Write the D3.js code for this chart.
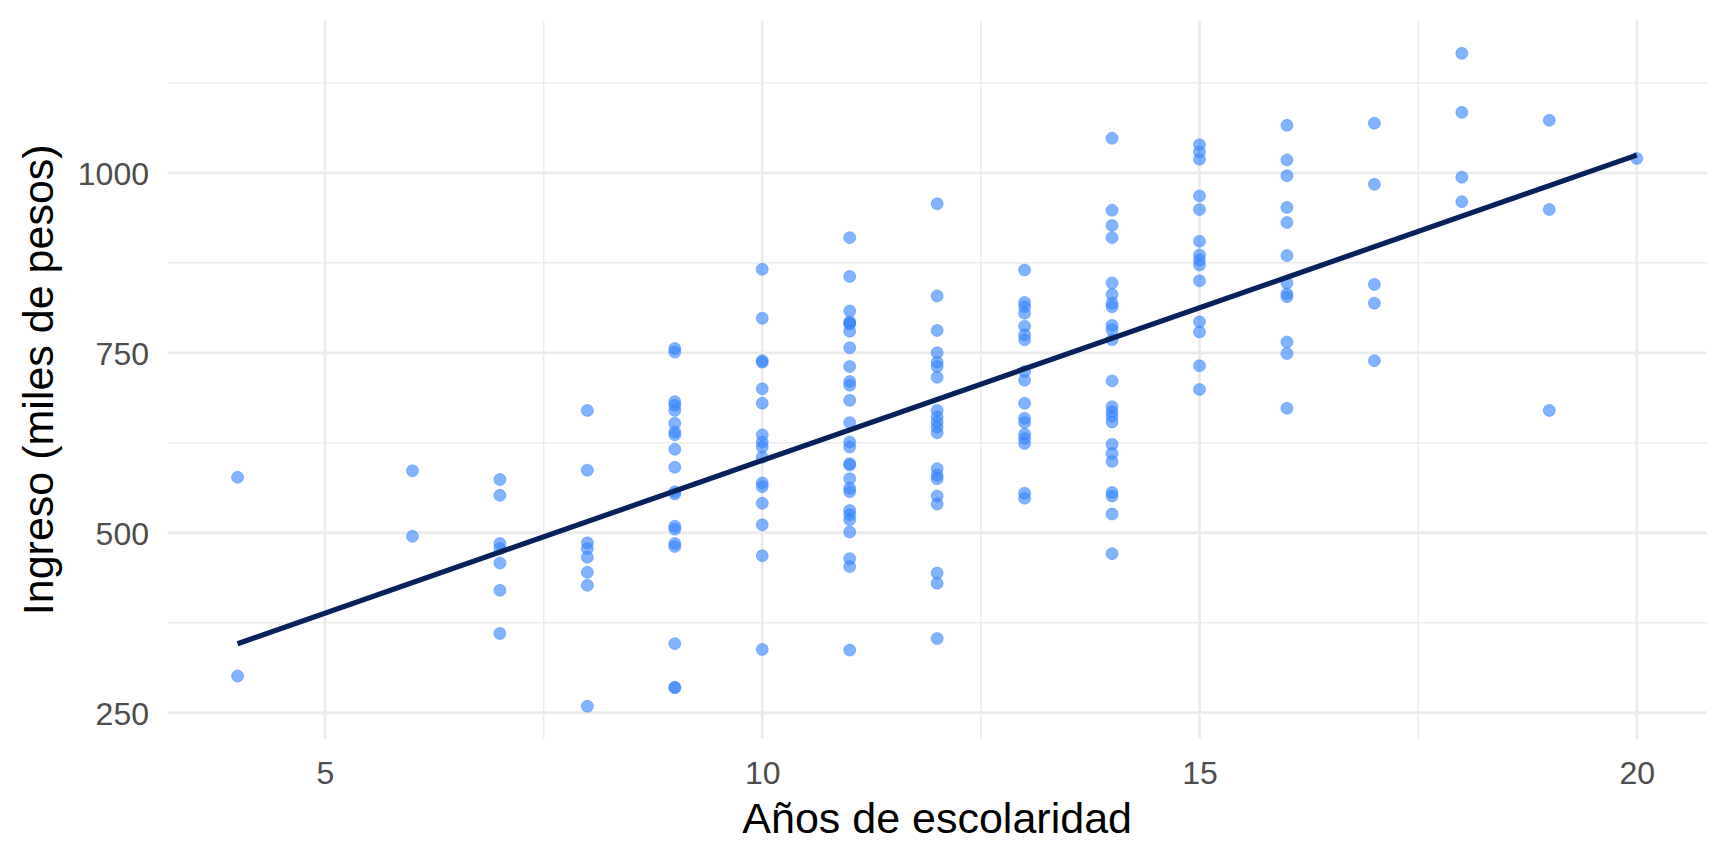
<!DOCTYPE html>
<html>
<head>
<meta charset="utf-8">
<script src="https://cdn.jsdelivr.net/npm/d3@7/dist/d3.min.js"></script>
<style>
  html, body { margin: 0; padding: 0; background: #ffffff; }
  svg { display: block; }
  text { font-family: "Liberation Sans", Arial, sans-serif; }
</style>
</head>
<body>
<svg id="chart" width="1728" height="864"></svg>
<script>
// ---- Data (years of schooling -> income, thousands of pesos) ----
const years = [
  4, 4,
  6, 6,
  7, 7, 7, 7, 7, 7, 7,
  8, 8, 8, 8, 8, 8, 8, 8,
  9, 9, 9, 9, 9, 9, 9, 9, 9, 9, 9, 9, 9, 9, 9, 9, 9, 9, 9,
  10, 10, 10, 10, 10, 10, 10, 10, 10, 10, 10, 10, 10, 10, 10, 10,
  11, 11, 11, 11, 11, 11, 11, 11, 11, 11, 11, 11, 11, 11, 11, 11, 11, 11, 11, 11, 11, 11, 11, 11, 11, 11, 11,
  12, 12, 12, 12, 12, 12, 12, 12, 12, 12, 12, 12, 12, 12, 12, 12, 12, 12, 12, 12,
  13, 13, 13, 13, 13, 13, 13, 13, 13, 13, 13, 13, 13, 13, 13, 13, 13,
  14, 14, 14, 14, 14, 14, 14, 14, 14, 14, 14, 14, 14, 14, 14, 14, 14, 14, 14, 14, 14, 14, 14,
  15, 15, 15, 15, 15, 15, 15, 15, 15, 15, 15, 15, 15, 15,
  16, 16, 16, 16, 16, 16, 16, 16, 16, 16, 16, 16,
  17, 17, 17, 17, 17,
  18, 18, 18, 18,
  19, 19, 19,
  20
];
const income = [
  577, 301,
  586, 495,
  574, 552, 485, 478, 458, 420, 360,
  670, 587, 486, 478, 466, 445, 427, 259,
  756, 751, 682, 677, 670, 652, 640, 636, 616, 591, 557, 554, 509, 505, 485, 481, 346, 285, 285,
  866, 798, 739, 737, 700, 680, 636, 626, 619, 605, 569, 564, 541, 511, 468, 338,
  910, 856, 808, 793, 791, 790, 780, 757, 731, 710, 705, 684, 653, 626, 619, 596, 594, 575, 562, 557, 531, 525, 518, 501, 464, 453, 337,
  957, 829, 781, 750, 737, 731, 716, 670, 661, 654, 647, 639, 589, 580, 575, 551, 540, 444, 430, 353,
  865, 820, 814, 805, 787, 775, 768, 724, 712, 680, 659, 653, 637, 631, 624, 555, 548,
  1048, 948, 927, 910, 847, 831, 819, 814, 788, 782, 768, 711, 675, 668, 662, 654, 623, 610, 599, 556, 551, 526, 471,
  1039, 1029, 1019, 968, 949, 905, 886, 879, 872, 850, 793, 779, 732, 699,
  1066, 1018, 996, 952, 931, 885, 847, 832, 828, 765, 749, 673,
  1069, 984, 845, 819, 739,
  1166, 1084, 994, 960,
  1073, 949, 670,
  1020
];
const xTicks = [5, 10, 15, 20];
const xMinor = [7.5, 12.5, 17.5];
const yTicks = [250, 500, 750, 1000];
const yMinor = [375, 625, 875, 1125];
const xLabel = "Años de escolaridad";
const yLabel = "Ingreso (miles de pesos)";

// ---- Layout ----
const panel = { left: 167.6, right: 1706.7, top: 20.7, bottom: 738.9 };

const svg = d3.select("#chart");

// ggplot-like expansion (5%) of the data range
const xExt = d3.extent(years), yExt = d3.extent(income);
const xPad = (xExt[1] - xExt[0]) * 0.05;
const yPad = (yExt[1] - yExt[0]) * 0.05;

const x = d3.scaleLinear().domain([xExt[0] - xPad, xExt[1] + xPad]).range([panel.left, panel.right]);
const y = d3.scaleLinear().domain([yExt[0] - yPad, yExt[1] + yPad]).range([panel.bottom, panel.top]);

const grid = svg.append("g").attr("class", "grid");
// minor grid
grid.selectAll("line.ymin").data(yMinor).join("line")
  .attr("x1", panel.left).attr("x2", panel.right)
  .attr("y1", d => y(d)).attr("y2", d => y(d))
  .attr("stroke", "#ebebeb").attr("stroke-width", 1.5);
grid.selectAll("line.xmin").data(xMinor).join("line")
  .attr("y1", panel.top).attr("y2", panel.bottom)
  .attr("x1", d => x(d)).attr("x2", d => x(d))
  .attr("stroke", "#ebebeb").attr("stroke-width", 1.5);
// major grid
grid.selectAll("line.ymaj").data(yTicks).join("line")
  .attr("x1", panel.left).attr("x2", panel.right)
  .attr("y1", d => y(d)).attr("y2", d => y(d))
  .attr("stroke", "#ebebeb").attr("stroke-width", 2.8);
grid.selectAll("line.xmaj").data(xTicks).join("line")
  .attr("y1", panel.top).attr("y2", panel.bottom)
  .attr("x1", d => x(d)).attr("x2", d => x(d))
  .attr("stroke", "#ebebeb").attr("stroke-width", 2.8);

// points
const pts = years.map((v, i) => ({ x: v, y: income[i] }));
svg.append("g").selectAll("circle").data(pts).join("circle")
  .attr("cx", d => x(d.x)).attr("cy", d => y(d.y)).attr("r", 6)
  .attr("fill", "#3385ff").attr("fill-opacity", 0.62)
  .attr("stroke", "#3385ff").attr("stroke-opacity", 0.5).attr("stroke-width", 0.9);

// least-squares fit line
const mx = d3.mean(years), my = d3.mean(income);
const sxy = d3.sum(pts, d => (d.x - mx) * (d.y - my));
const sxx = d3.sum(pts, d => (d.x - mx) * (d.x - mx));
const slope = sxy / sxx, intercept = my - slope * mx;
const fit = [xExt[0], xExt[1]].map(v => ({ x: v, y: intercept + slope * v }));
svg.append("path").datum(fit)
  .attr("d", d3.line().x(d => x(d.x)).y(d => y(d.y)))
  .attr("fill", "none").attr("stroke", "#06215c").attr("stroke-width", 5.2);

// axes
const xAxis = svg.append("g").attr("transform", `translate(0,${panel.bottom})`)
  .call(d3.axisBottom(x).tickValues(xTicks).tickSize(0).tickPadding(22.7).tickFormat(d3.format("d")));
const yAxis = svg.append("g").attr("transform", `translate(${panel.left},0)`)
  .call(d3.axisLeft(y).tickValues(yTicks).tickSize(0).tickPadding(18.6).tickFormat(d3.format("d")));
[xAxis, yAxis].forEach(a => {
  a.select(".domain").remove();
  a.selectAll("text").attr("font-size", 32).attr("fill", "#4d4d4d")
    .attr("font-family", "Liberation Sans, Arial, sans-serif");
});
yAxis.selectAll("text").attr("dy", "0.36em");

// titles
svg.append("text").attr("x", (panel.left + panel.right) / 2).attr("y", 833)
  .attr("text-anchor", "middle").attr("font-size", 43).attr("fill", "#000")
  .text(xLabel);
svg.append("text").attr("transform", `translate(53,${(panel.top + panel.bottom) / 2}) rotate(-90)`)
  .attr("text-anchor", "middle").attr("font-size", 43).attr("fill", "#000")
  .text(yLabel);
</script>
</body>
</html>
